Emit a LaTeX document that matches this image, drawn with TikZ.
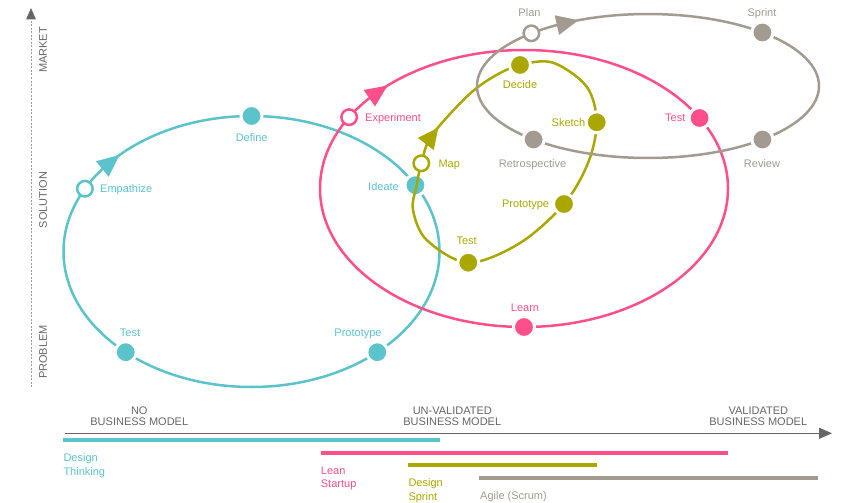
\documentclass[tikz,border=0pt]{standalone}
\usepackage{fontspec}
\setmainfont{Liberation Sans}
\usetikzlibrary{calc,arrows.meta}
\definecolor{tealc}{HTML}{5BC3CC}
\definecolor{pinkc}{HTML}{FF4F8B}
\definecolor{olivec}{HTML}{AAA800}
\definecolor{grayc}{HTML}{A39A90}
\definecolor{axisc}{HTML}{666666}
\definecolor{dashc}{HTML}{9A9A9A}
\begin{document}
\begin{tikzpicture}[x=1pt,y=-1pt,
  ring/.style={line width=2.5pt},
  fdot/.style={circle,inner sep=0pt,minimum size=21pt,fill=#1,draw=white,line width=3pt},
  odot/.style={circle,inner sep=0pt,minimum size=15.5pt,fill=white,draw=#1,line width=2.5pt},
  lbl/.style={font=\fontsize{11}{13}\selectfont,inner sep=0pt,text=#1},
  barline/.style={line width=4pt,draw=#1},
]
\useasboundingbox (0,0) rectangle (851,503);

% ---------- axes ----------
\coordinate (vbot) at (31,387);
\coordinate (vtop) at (31,19.5);
\coordinate (vtip) at (31,8);
\draw[dashc, line width=1pt, dash pattern=on 2pt off 1.5pt] (vbot) -- (vtop);
\fill[axisc] (vtip) -- ($(vtop)+(-5,0)$) -- ($(vtop)+(5,0)$) -- cycle;
\node[lbl=axisc, rotate=90] (market) at (43,50) {MARKET};
\node[lbl=axisc, rotate=90] (solution) at (43,200) {SOLUTION};
\node[lbl=axisc, rotate=90] (problem) at (43,352) {PROBLEM};

\coordinate (hl) at (65,433.3);
\coordinate (hr) at (832,433.3);
\draw[axisc, line width=1.1pt, -{Triangle[length=13pt,width=11pt]}] (hl) -- (hr);

% ---------- teal loop (Design Thinking) ----------
\coordinate (tc) at (251.5,251.5);
\draw[tealc, ring] (tc) ellipse [x radius=188, y radius=135.5];
\coordinate (tA) at ($(tc)+(217.5:188 and 135.5)$);
\coordinate (tB) at ($(tc)+(225.4:188 and 135.5)$);
\fill[tealc] (tB) -- ($(tA)!10pt!90:(tB)$) -- ($(tA)!10pt!-90:(tB)$) -- cycle;
\node[odot=tealc] (empathize) at ($(tc)+(207.6:188 and 135.5)$) {};
\node[fdot=tealc] (define) at ($(tc)+(270:188 and 135.5)$) {};
\node[fdot=tealc] (ideate) at ($(tc)+(330.7:188 and 135.5)$) {};
\node[fdot=tealc] (ttest) at ($(tc)+(132:188 and 135.5)$) {};
\node[fdot=tealc] (tproto) at ($(tc)+(48:188 and 135.5)$) {};

% ---------- pink loop (Lean Startup) ----------
\coordinate (pc) at (524,188.5);
\draw[pinkc, ring] (pc) ellipse [x radius=204, y radius=138.5];
\coordinate (pA) at ($(pc)+(220.7:204 and 138.5)$);
\coordinate (pB) at ($(pc)+(228:204 and 138.5)$);
\fill[pinkc] (pB) -- ($(pA)!10pt!90:(pB)$) -- ($(pA)!10pt!-90:(pB)$) -- cycle;
\node[odot=pinkc] (experiment) at ($(pc)+(211:204 and 138.5)$) {};
\node[fdot=pinkc] (ptest) at ($(pc)+(329.4:204 and 138.5)$) {};
\node[fdot=pinkc] (learn) at ($(pc)+(90:204 and 138.5)$) {};

% ---------- olive loop (Design Sprint) ----------
\draw[olivec, ring] plot[smooth cycle, tension=0.55] coordinates {
  (421.3,163.3) (431.5,136) (466.7,96.7) (493,77) (520,65) (553,62.7)
  (586.7,86.7) (596.7,122.3) (588,163) (564,204) (520,243) (468.3,262.7)
  (426.7,240) (413,210) (416.5,186)};
\coordinate (oA) at (425.8,144);
\coordinate (oB) at (438.3,127.7);
\fill[olivec] (oB) -- ($(oA)!10pt!90:(oB)$) -- ($(oA)!10pt!-90:(oB)$) -- cycle;
\node[odot=olivec] (map) at (421.3,163.3) {};
\node[fdot=olivec] (decide) at (520,65) {};
\node[fdot=olivec] (sketch) at (596.7,122.3) {};
\node[fdot=olivec] (oproto) at (564,204) {};
\node[fdot=olivec] (otest) at (468.3,262.7) {};

% ---------- gray loop (Agile / Scrum) ----------
\coordinate (gc) at (648,86);
\draw[grayc, ring] (gc) ellipse [x radius=171, y radius=72];
\coordinate (gA) at ($(gc)+(237.8:171 and 72)$);
\coordinate (gB) at ($(gc)+(246:171 and 72)$);
\fill[grayc] (gB) -- ($(gA)!10pt!90:(gB)$) -- ($(gA)!10pt!-90:(gB)$) -- cycle;
\node[odot=grayc] (plan) at ($(gc)+(227:171 and 72)$) {};
\node[fdot=grayc] (sprint) at ($(gc)+(312:171 and 72)$) {};
\node[fdot=grayc] (retro) at ($(gc)+(132:171 and 72)$) {};
\node[fdot=grayc] (review) at ($(gc)+(48:171 and 72)$) {};

% ---------- loop labels ----------
\node[lbl=tealc, anchor=base west] (lempathize) at (100,192.5) {Empathize};
\node[lbl=tealc, anchor=base] (ldefine) at (251.7,141.5) {Define};
\node[lbl=tealc, anchor=base east] (lideate) at (399,190.5) {Ideate};
\node[lbl=tealc, anchor=base] (lttest) at (130,336.5) {Test};
\node[lbl=tealc, anchor=base] (ltproto) at (358,336.5) {Prototype};

\node[lbl=pinkc, anchor=base west] (lexperiment) at (365,121.5) {Experiment};
\node[lbl=pinkc, anchor=base east] (lptest) at (685.5,121.5) {Test};
\node[lbl=pinkc, anchor=base] (llearn) at (525,311.5) {Learn};

\node[lbl=olivec, anchor=base west] (lmap) at (438.3,167) {Map};
\node[lbl=olivec, anchor=base] (ldecide) at (520,88.5) {Decide};
\node[lbl=olivec, anchor=base east] (lsketch) at (585.5,126) {Sketch};
\node[lbl=olivec, anchor=base east] (loproto) at (549.3,207) {Prototype};
\node[lbl=olivec, anchor=base] (lotest) at (466.7,244.5) {Test};

\node[lbl=grayc, anchor=base] (lplan) at (529.5,16.5) {Plan};
\node[lbl=grayc, anchor=base] (lsprint) at (762,16.5) {Sprint};
\node[lbl=grayc, anchor=base] (lretro) at (532.5,167.5) {Retrospective};
\node[lbl=grayc, anchor=base] (lreview) at (762,167.5) {Review};

% ---------- horizontal axis labels ----------
\node[lbl=axisc, anchor=base] (no1) at (139.3,414) {NO};
\node[lbl=axisc, anchor=base] (no2) at (139.3,425.7) {BUSINESS MODEL};
\node[lbl=axisc, anchor=base] (un1) at (452.3,414) {UN-VALIDATED};
\node[lbl=axisc, anchor=base] (un2) at (452.3,425.7) {BUSINESS MODEL};
\node[lbl=axisc, anchor=base] (va1) at (758.3,414) {VALIDATED};
\node[lbl=axisc, anchor=base] (va2) at (758.3,425.7) {BUSINESS MODEL};

% ---------- bars ----------
\coordinate (b1l) at (62.7,439.7); \coordinate (b1r) at (440,439.7);
\coordinate (b2l) at (320.7,452.7); \coordinate (b2r) at (728.3,452.7);
\coordinate (b3l) at (408.3,465); \coordinate (b3r) at (597,465);
\coordinate (b4l) at (479,477.7); \coordinate (b4r) at (818.3,477.7);
\draw[barline=tealc] (b1l) -- (b1r);
\draw[barline=pinkc] (b2l) -- (b2r);
\draw[barline=olivec] (b3l) -- (b3r);
\draw[barline=grayc] (b4l) -- (b4r);

\node[lbl=tealc, anchor=base west] (dt1) at (63.3,461.8) {Design};
\node[lbl=tealc, anchor=base west] (dt2) at (63.3,475.2) {Thinking};
\node[lbl=pinkc, anchor=base west] (ls1) at (320.7,474.5) {Lean};
\node[lbl=pinkc, anchor=base west] (ls2) at (320.7,487.8) {Startup};
\node[lbl=olivec, anchor=base west] (ds1) at (408.3,486.7) {Design};
\node[lbl=olivec, anchor=base west] (ds2) at (408.3,500) {Sprint};
\node[lbl=grayc, anchor=base west] (ag) at (480,499.5) {Agile (Scrum)};
\end{tikzpicture}
\end{document}
